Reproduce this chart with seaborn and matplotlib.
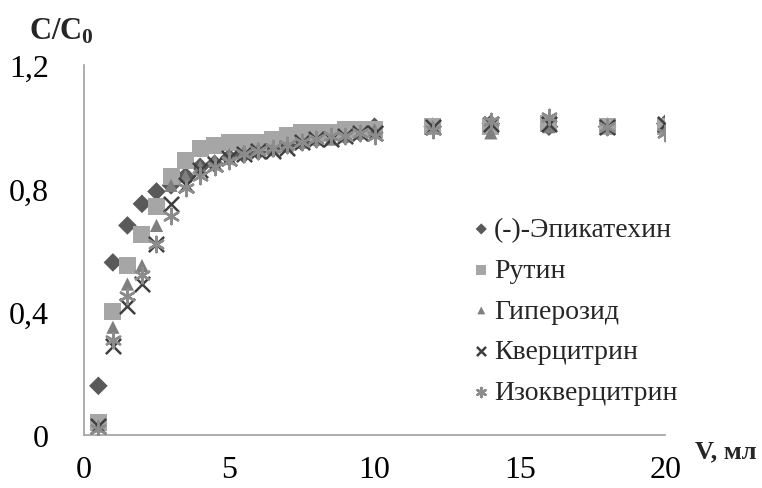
import matplotlib
matplotlib.use("Agg")
import matplotlib.pyplot as plt
import seaborn as sns
import pandas as pd

# ---- data ----
volume = [0.5, 1, 1.5, 2, 2.5, 3, 3.5, 4, 4.5, 5, 5.5, 6, 6.5, 7, 7.5, 8, 8.5, 9, 9.5, 10,
          12, 14, 16, 18, 20]
epicatechin = [0.16, 0.56, 0.68, 0.75, 0.79, 0.81, 0.84, 0.87, 0.88, 0.90, 0.91, 0.92, 0.93,
               0.94, 0.95, 0.96, 0.97, 0.97, 0.98, 1.00, 1.00, 1.01, 1.00, 1.00, 1.01]
rutin = [0.04, 0.40, 0.55, 0.65, 0.74, 0.84, 0.89, 0.93, 0.94, 0.95, 0.95, 0.95, 0.96,
         0.97, 0.98, 0.98, 0.98, 0.99, 0.99, 0.99, 1.00, 1.00, 1.01, 1.00, 1.00]
hyperoside = [0.03, 0.35, 0.49, 0.55, 0.68, 0.81, 0.84, 0.87, 0.89, 0.91, 0.92, 0.93, 0.93,
              0.94, 0.95, 0.96, 0.96, 0.97, 0.98, 0.99, 1.00, 0.98, 1.00, 1.00, 1.00]
quercitrin = [0.03, 0.29, 0.42, 0.49, 0.62, 0.75, 0.81, 0.86, 0.88, 0.90, 0.91, 0.92, 0.92,
              0.93, 0.95, 0.96, 0.96, 0.97, 0.98, 0.98, 1.00, 1.01, 1.01, 1.00, 1.01]
isoquercitrin = [0.02, 0.31, 0.45, 0.52, 0.62, 0.71, 0.80, 0.84, 0.87, 0.89, 0.91, 0.92, 0.93,
                 0.94, 0.95, 0.96, 0.97, 0.97, 0.98, 0.97, 0.99, 1.02, 1.03, 1.00, 0.98]

series_names = ["(-)-Эпикатехин", "Рутин", "Гиперозид", "Кверцитрин", "Изокверцитрин"]
x_ticks = [0, 5, 10, 15, 20]
y_ticks = [0, 0.4, 0.8, 1.2]
y_tick_labels = ["0", "0,4", "0,8", "1,2"]

# ---- styling ----
sns.set_style("white")
plt.rcParams["font.family"] = ["Liberation Serif", "DejaVu Serif"]
plt.rcParams["mathtext.fontset"] = "custom"
plt.rcParams["mathtext.rm"] = "Liberation Serif"
plt.rcParams["mathtext.bf"] = "Liberation Serif:bold"
plt.rcParams["mathtext.it"] = "Liberation Serif:italic"

fig = plt.figure(figsize=(7.62, 4.89), dpi=100)
ax = fig.add_axes([0.110, 0.108, 0.763, 0.757])

styles = [
    dict(marker="D", color="#595959", s=90, edgecolor="none"),
    dict(marker="s", color="#a6a6a6", s=150, edgecolor="none"),
    dict(marker="^", color="#7f7f7f", s=90, edgecolor="none"),
    dict(marker="x", color="#404040", s=120, linewidth=1.8),
    dict(marker=(6, 2, 0), color="#8c8c8c", s=120, linewidth=1.8),
]
values = [epicatechin, rutin, hyperoside, quercitrin, isoquercitrin]

for name, vals, st in zip(series_names, values, styles):
    df = pd.DataFrame({"V": volume, "C": vals})
    sns.scatterplot(data=df, x="V", y="C", ax=ax, label=name, zorder=3, **st)

ax.set_xlim(0, 20)
ax.set_ylim(0, 1.2)
ax.set_xticks(x_ticks)
ax.set_yticks(y_ticks)
ax.set_yticklabels(y_tick_labels)
ax.set_xlabel("")
ax.set_ylabel("")
ax.tick_params(axis="both", labelsize=23, colors="black", length=7, width=1, direction="out",
               color="#a0a0a0")
ax.tick_params(axis="y", pad=18)
ax.tick_params(axis="x", pad=7)
for side in ["top", "right"]:
    ax.spines[side].set_visible(False)
for side in ["left", "bottom"]:
    ax.spines[side].set_color("#a0a0a0")
    ax.spines[side].set_linewidth(1.2)

fig.text(0.038, 0.905, r"$\mathbf{C/C_0}$", fontsize=22, ha="left", va="bottom")
fig.text(0.993, 0.076, "V, мл", fontsize=19, fontweight="bold", ha="right", va="center")

leg = ax.legend(loc="upper left", bbox_to_anchor=(0.643, 0.62), frameon=False, fontsize=20,
                handletextpad=0.0, labelspacing=0.55, borderaxespad=0, handlelength=0.9,
                markerscale=0.6)

fig.savefig("out.png", dpi=100)
